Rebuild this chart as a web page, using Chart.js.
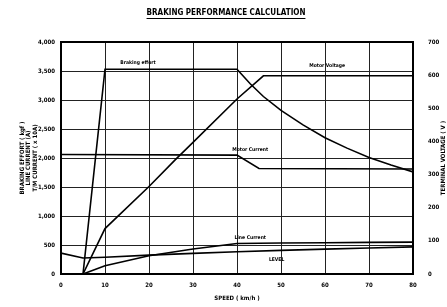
<!DOCTYPE html>
<html>
<head>
<meta charset="utf-8">
<script src="https://cdn.jsdelivr.net/npm/chart.js@4.4.0/dist/chart.umd.min.js"></script>
<style>
  html, body { margin: 0; padding: 0; background: #fff; }
  canvas { display: block; }
</style>
</head>
<body>
<canvas id="brakeChart" width="447" height="307"></canvas>
<script>
// tick labels
const speedTicks = [0, 10, 20, 30, 40, 50, 60, 70, 80];
const effortTicks = [0, 500, 1000, 1500, 2000, 2500, 3000, 3500, 4000];
const voltTicks = [0, 100, 200, 300, 400, 500, 600, 700];

// braking effort (kgf)
const effortSpeed = [5, 10, 40, 43, 46, 50, 55, 60, 65, 70, 75, 80];
const effortKgf = [0, 3530, 3530, 3280, 3060, 2820, 2570, 2350, 2170, 2010, 1880, 1760];

// motor (terminal) voltage, right axis (V)
const voltSpeed = [5, 10, 20, 26, 30, 40, 46, 80];
const motorVolt = [0, 137, 264, 345, 397, 528, 598, 598];

// motor current (x 10A)
const motorCurSpeed = [0, 40, 45, 80];
const motorCur = [2060, 2050, 1820, 1810];

// line current (A)
const lineCurSpeed = [5, 10, 20, 30, 40, 50, 60, 70, 80];
const lineCur = [0, 142, 314, 430, 527, 535, 540, 545, 550];

// level
const levelSpeed = [0, 5, 10, 20, 30, 40, 50, 60, 70, 80];
const level = [360, 275, 288, 326, 355, 383, 408, 429, 448, 468];

const FONT = '"Liberation Sans Narrow", "DejaVu Sans Condensed", "Arial Narrow", sans-serif';
const pts = (xs, ys) => xs.map((x, i) => ({x: x, y: ys[i]}));

function lineSet(label, data, axis) {
  return {
    label: label,
    data: data,
    yAxisID: axis,
    borderColor: '#000',
    borderWidth: 1.6,
    pointRadius: 0,
    tension: 0,
    fill: false
  };
}

const textPlugin = {
  id: 'chartText',
  afterDraw(chart) {
    const ctx = chart.ctx;
    const a = chart.chartArea;
    const sx = chart.scales.x, sy = chart.scales.y, sv = chart.scales.y2;
    ctx.save();
    ctx.strokeStyle = '#000';
    ctx.lineWidth = 2;
    ctx.strokeRect(a.left, a.top, a.right - a.left, a.bottom - a.top);

    ctx.fillStyle = '#000';
    ctx.textAlign = 'center';
    ctx.textBaseline = 'middle';

    // title, underlined
    ctx.font = 'bold 8px ' + FONT;
    const title = 'BRAKING PERFORMANCE CALCULATION';
    const tw = ctx.measureText(title).width;
    ctx.fillText(title, 226, 13);
    ctx.lineWidth = 1;
    ctx.beginPath();
    ctx.moveTo(226 - tw / 2, 18.5);
    ctx.lineTo(226 + tw / 2, 18.5);
    ctx.stroke();

    // x axis title
    ctx.font = 'bold 6px ' + FONT;
    ctx.fillText('SPEED ( km/h )', (a.left + a.right) / 2, 298);

    // left axis titles
    const midY = (a.top + a.bottom) / 2;
    const leftLines = ['BRAKING EFFORT ( kgf )', 'LINE CURRENT (A)', 'T/M CURRENT ( x 10A)'];
    leftLines.forEach((t, i) => {
      ctx.save();
      ctx.translate(22 + i * 6.5, midY);
      ctx.rotate(-Math.PI / 2);
      ctx.fillText(t, 0, 0);
      ctx.restore();
    });

    // right axis title
    ctx.save();
    ctx.translate(443, midY);
    ctx.rotate(-Math.PI / 2);
    ctx.fillText('TERMINAL VOLTAGE ( V )', 0, 0);
    ctx.restore();

    // curve labels
    ctx.font = 'bold 5px ' + FONT;
    ctx.fillText('Braking effort', sx.getPixelForValue(17.5), sy.getPixelForValue(3650));
    ctx.fillText('Motor Voltage', sx.getPixelForValue(60.5), sv.getPixelForValue(628));
    ctx.fillText('Motor Current', sx.getPixelForValue(43), sy.getPixelForValue(2140));
    ctx.fillText('Line Current', sx.getPixelForValue(43), sy.getPixelForValue(630));
    ctx.fillText('LEVEL', sx.getPixelForValue(49), sy.getPixelForValue(255));
    ctx.restore();
  }
};

const tickFont = {family: FONT, size: 6, weight: 'bold'};

new Chart(document.getElementById('brakeChart'), {
  type: 'line',
  data: {
    datasets: [
      lineSet('Braking effort', pts(effortSpeed, effortKgf), 'y'),
      lineSet('Motor Voltage', pts(voltSpeed, motorVolt), 'y2'),
      lineSet('Motor Current', pts(motorCurSpeed, motorCur), 'y'),
      lineSet('Line Current', pts(lineCurSpeed, lineCur), 'y'),
      lineSet('LEVEL', pts(levelSpeed, level), 'y')
    ]
  },
  options: {
    responsive: false,
    animation: false,
    devicePixelRatio: 1,
    layout: {padding: {top: 42, left: 0, right: 0, bottom: 0}},
    plugins: {legend: {display: false}, tooltip: {enabled: false}},
    scales: {
      x: {
        type: 'linear', position: 'bottom', min: 0, max: 80,
        afterFit(s) { s.height = 33; },
        afterBuildTicks(s) { s.ticks = speedTicks.map(v => ({value: v})); },
        ticks: {padding: 8, font: tickFont, color: '#000', maxRotation: 0},
        grid: {color: '#222', lineWidth: 1, drawTicks: false},
        border: {display: false}
      },
      y: {
        type: 'linear', position: 'left', min: 0, max: 4000,
        afterFit(s) { s.width = 61; },
        afterBuildTicks(s) { s.ticks = effortTicks.map(v => ({value: v})); },
        ticks: {padding: 6, font: tickFont, color: '#000',
                callback: v => v.toLocaleString('en-US')},
        grid: {color: '#222', lineWidth: 1, drawTicks: false},
        border: {display: false}
      },
      y2: {
        type: 'linear', position: 'right', min: 0, max: 700,
        afterFit(s) { s.width = 34; },
        afterBuildTicks(s) { s.ticks = voltTicks.map(v => ({value: v})); },
        ticks: {padding: 15, font: tickFont, color: '#000'},
        grid: {display: false, drawTicks: false},
        border: {display: false}
      }
    }
  },
  plugins: [textPlugin]
});
</script>
</body>
</html>
